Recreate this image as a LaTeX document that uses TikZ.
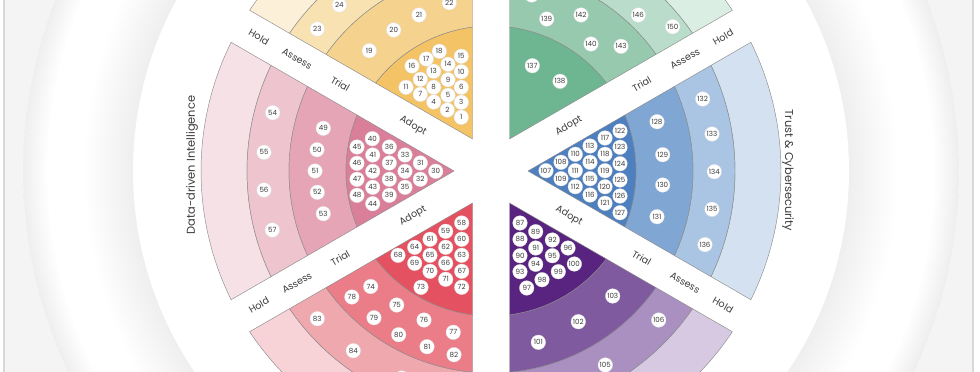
\documentclass[tikz,border=0pt]{standalone}
\usepackage{fontspec}
\setmainfont{Poppins}

%% 各环颜色（A=Adopt, T=Trial, S=Assess, H=Hold）
\definecolor{yelA}{HTML}{F3C366}\definecolor{yelT}{HTML}{F5D38E}
\definecolor{yelS}{HTML}{F8E2B2}\definecolor{yelH}{HTML}{FCF0D9}
\definecolor{grnA}{HTML}{6EB691}\definecolor{grnT}{HTML}{96C9AE}
\definecolor{grnS}{HTML}{B9DDCA}\definecolor{grnH}{HTML}{DAEEE4}
\definecolor{bluA}{HTML}{4E7FBF}\definecolor{bluT}{HTML}{80A6D3}
\definecolor{bluS}{HTML}{AAC4E3}\definecolor{bluH}{HTML}{D3E1F0}
\definecolor{purA}{HTML}{58247F}\definecolor{purT}{HTML}{805A9F}
\definecolor{purS}{HTML}{A990C1}\definecolor{purH}{HTML}{D7C9E1}
\definecolor{redA}{HTML}{E45262}\definecolor{redT}{HTML}{EA7D88}
\definecolor{redS}{HTML}{EFA8AE}\definecolor{redH}{HTML}{F7D3D7}
\definecolor{pnkA}{HTML}{DA7F99}\definecolor{pnkT}{HTML}{E5A5B7}
\definecolor{pnkS}{HTML}{EEC4CF}\definecolor{pnkH}{HTML}{F6E1E7}
\definecolor{inkgray}{HTML}{3C3C3C}
\definecolor{bgout}{HTML}{F4F4F4}
\definecolor{edgegray}{HTML}{D8D8D8}

%% 环半径与扇区间白带的半宽
\def\gapw{18.5}
\def\rAdopt{145}
\def\rTrial{202}
\def\rAssess{244}
\def\rHold{290}

%% 一段环：#1 扇区中心角, #2 内半径, #3 外半径, #4 颜色
\newcommand{\ringseg}[4]{%
  \pgfmathsetmacro\aIn{asin(\gapw/#2)}%
  \pgfmathsetmacro\aOut{asin(\gapw/#3)}%
  \filldraw[ring, fill=#4]
    (#1-30+\aOut:#3) arc[start angle=#1-30+\aOut, end angle=#1+30-\aOut, radius=#3]
    -- (#1+30-\aIn:#2) arc[start angle=#1+30-\aIn, end angle=#1-30+\aIn, radius=#2] -- cycle;
}
%% 最内的 Adopt：尖端在中心角方向 2*gap 处
\newcommand{\adoptseg}[2]{%
  \pgfmathsetmacro\aOut{asin(\gapw/\rAdopt)}%
  \filldraw[ring, fill=#2]
    (#1:2*\gapw) -- (#1-30+\aOut:\rAdopt)
    arc[start angle=#1-30+\aOut, end angle=#1+30-\aOut, radius=\rAdopt] -- cycle;
}
%% 整个扇区：#1 中心角, #2..#5 = Adopt/Trial/Assess/Hold
\newcommand{\sectorrings}[5]{%
  \ringseg{#1}{\rAssess}{\rHold}{#5}
  \ringseg{#1}{\rTrial}{\rAssess}{#4}
  \ringseg{#1}{\rAdopt}{\rTrial}{#3}
  \adoptseg{#1}{#2}
}

\begin{document}
\begin{tikzpicture}[x=1pt, y=-1pt, line cap=round, line join=round,
    ring/.style={draw=black!45, line width=0.45pt},
    blip/.style={circle, fill=white, draw=black!12, line width=0.3pt,
                 minimum size=14.6pt, inner sep=0pt, text=inkgray,
                 font=\fontsize{7.1}{7}\selectfont},
    bandlabel/.style={inner sep=0pt, text=inkgray, font=\fontsize{9.6}{11}\selectfont},
    sectortitle/.style={inner sep=0pt, text=inkgray, font=\fontsize{11.4}{13}\selectfont}]

  \useasboundingbox (0,0) rectangle (980,372);
  \clip (0,0) rectangle (980,372);

  %% ════ 背景：两层大圆 + 柔和阴影 ════
  \fill[bgout] (0,0) rectangle (980,372);
  \fill[white] (491,171) circle (468);
  \foreach \k in {1,...,8}
    \fill[black, opacity=0.006, even odd rule] (491,171) circle (468) circle (468-3*\k);
  \foreach \k in {1,...,16}
    \fill[black, opacity=0.004] (491,171) circle (358+3*\k);
  \fill[white] (491,171) circle (358);

  %% ════ 六个扇区（屏幕角度，y 向下）════
  \begin{scope}[shift={(491,171)}]
    \sectorrings{0}{bluA}{bluT}{bluS}{bluH}
    \sectorrings{60}{purA}{purT}{purS}{purH}
    \sectorrings{120}{redA}{redT}{redS}{redH}
    \sectorrings{180}{pnkA}{pnkT}{pnkS}{pnkH}
    \sectorrings{240}{yelA}{yelT}{yelS}{yelH}
    \sectorrings{300}{grnA}{grnT}{grnS}{grnH}

    %% ── 斜白带上的环名
    \foreach \ang/\rot in {30/-30, 150/30, 210/-30, 330/30}
      \foreach \lab/\rr in {Adopt/90, Trial/174, Assess/224, Hold/268}
        \node[bandlabel, rotate=\rot] (lbl-\ang-\lab) at (\ang:\rr) {\lab};
  \end{scope}

  %% ════ 扇区标题 ════
  \node[sectortitle, rotate=90] (title-data) at (192,165) {Data-driven Intelligence};
  \node[sectortitle, rotate=-90] (title-trust) at (788,170.5) {Trust \& Cybersecurity};

  %% ════ 编号圆点 ════
  %% 黄
  \foreach \n/\x/\y in {24/339.3/5, 22/449.3/2.7, 23/317.3/29, 21/419/15, 20/393.7/30,
      19/369.3/50.7, 18/439.3/51.3, 15/461.3/56.3, 17/426.3/59, 16/412/66,
      14/448/64.3, 10/461.3/71.7, 13/433.7/71.3, 12/420.3/79.3, 9/448/79.7,
      11/406/87.3, 8/433.7/87.3, 6/461.3/87.3, 7/420.3/94.3, 5/448/95.3,
      4/433.7/102, 3/461.3/102.3, 2/447.3/110, 1/461.3/117.3}
    \node[blip] (b\n) at (\x,\y) {\n};
  %% 绿（最上那个只露出圆边，号码在画面外）
  \node[blip] (b-top) at (531.7,-5) {};
  \foreach \n/\x/\y in {139/546.7/19, 142/581/15, 146/638.3/15, 150/672.7/26.7,
      140/591/44, 143/621/46.3, 137/532.3/65.7, 138/560/81.3}
    \node[blip] (b\n) at (\x,\y) {\n};
  %% 粉
  \foreach \n/\x/\y in {54/272.7/112.7, 55/264/152.3, 56/264/190, 57/272.3/230,
      49/323.3/128.3, 50/317/149.7, 51/315/171, 52/317.3/192.3, 53/323.3/213.7,
      40/372.3/138.7, 45/357/147, 36/389.3/147, 41/372.7/155, 33/405/155,
      46/357/163.3, 37/389.3/163, 31/420.3/163, 42/372.7/171.3, 34/405/171.3,
      30/435.7/171.3, 47/357/179.3, 38/389.3/179.3, 32/420.3/179.3,
      43/372.7/187.3, 35/405/187.3, 48/357/195.3, 39/389.3/195.3, 44/372.7/203.7}
    \node[blip] (b\n) at (\x,\y) {\n};
  %% 红（最下那个只露出圆顶）
  \foreach \n/\x/\y in {58/461.7/223, 59/445.7/231.3, 60/461.7/239.3, 61/430/239.3,
      62/445.7/247.3, 64/414.7/247.3, 63/461.7/255.3, 65/430/255.3, 68/398/255.3,
      66/445.7/263.3, 69/414.7/263.3, 67/461.7/271.3, 70/430/271.3, 71/445.7/279.3,
      73/421/287.3, 72/461.7/287.3, 74/370.7/286.5, 78/351.8/297, 75/396.7/305,
      79/374/317.7, 76/424/320, 80/398.7/334.7, 77/453.3/332.3, 81/427/346.7,
      82/454/354.7, 83/317.3/318.7, 84/353.3/350.7}
    \node[blip] (b\n) at (\x,\y) {\n};
  \node[blip] (b-bottom) at (401.7,378) {};
  %% 紫
  \foreach \n/\x/\y in {87/520/223, 89/535.7/231.7, 88/520/239.3, 92/552.3/240,
      91/535.7/248, 96/568/248, 90/520/255.7, 95/552.3/255.7, 100/574.3/264,
      94/535.7/264.3, 93/520/271.7, 99/558.3/271.7, 98/542/279.7, 97/526.7/288,
      103/612.7/296, 102/578.3/321.7, 101/538.3/342.3, 106/658.7/320, 105/605.3/365}
    \node[blip] (b\n) at (\x,\y) {\n};
  %% 蓝
  \foreach \n/\x/\y in {107/546/170.7, 108/561/162.3, 109/561/178.7,
      110/575.3/154.3, 111/575.3/170.7, 112/575.3/186.7,
      113/590/146, 114/590/162.3, 115/590/178.7, 116/590/195,
      117/605/138, 118/605/154.3, 119/605/170.7, 120/605/186.7, 121/605/203.3,
      122/620/131, 123/620/147.3, 124/620/163.7, 125/620/180, 126/620/196, 127/620/212.7,
      128/657/121.7, 129/662.7/154.7, 130/662.7/185, 131/657/216.7,
      132/702.7/99, 133/712/134, 134/714.3/171.7, 135/712/209.3, 136/705/244.6}
    \node[blip] (b\n) at (\x,\y) {\n};

  %% ════ 页边阴影线 ════
  \fill[white] (0,0) rectangle (3,372);
  \fill[white] (974,0) rectangle (980,372);
  \draw[edgegray, line width=1.4pt] (4,0) -- (4,372);
  \draw[edgegray, line width=1.4pt] (973,0) -- (973,372);
\end{tikzpicture}
\end{document}
